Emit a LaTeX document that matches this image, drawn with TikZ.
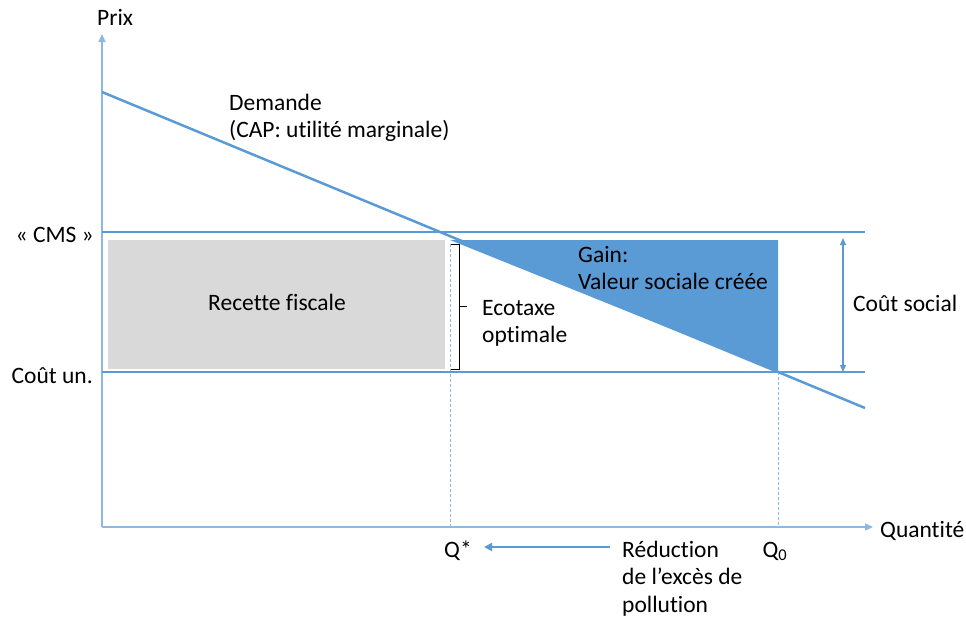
\documentclass[tikz,border=0pt]{standalone}
\usepackage{fontspec}
\setmainfont{Carlito}[Ligatures=NoCommon]
\usetikzlibrary{arrows.meta}
\definecolor{ofblue}{HTML}{5B9BD5}
\definecolor{axblue}{HTML}{8FB8E0}
\definecolor{ofgrey}{HTML}{D9D9D9}
\begin{document}
\begin{tikzpicture}[x=1pt,y=-1pt,
  lbl/.style={font=\fontsize{23.5}{27.5}\selectfont,inner sep=0pt,align=left},
  axisline/.style={draw=axblue,line width=1.5pt,-{Triangle[length=8pt,width=7pt]}},
  curve/.style={draw=ofblue,line width=2.5pt},
  guide/.style={draw=axblue,line width=1pt,dashed,dash pattern=on 3pt off 2pt}]
\useasboundingbox (0,0) rectangle (966,619);
% areas
\fill[ofgrey] (108,240) rectangle (445,369);
\coordinate (o) at (102,527);
\coordinate (ytop) at (102,34);
\coordinate (xend) at (873,527);
\coordinate (dA) at (102,92);
\coordinate (dB) at (865,408);
\coordinate (cmsL) at (102,232);
\coordinate (cmsR) at (865,232);
\coordinate (cuL) at (102,372);
\coordinate (cuR) at (865,372);
\coordinate (tA) at (450,240);
\coordinate (tB) at (778,240);
\coordinate (tC) at (778,372);
\fill[ofblue] (tA) -- (tB) -- (tC) -- cycle;
% guides
\coordinate (qs) at (450,527);
\coordinate (qstop) at (450,244);
\coordinate (q0) at (778,527);
\draw[guide] (qstop) -- (qs);
\draw[guide] (tC) -- (q0);
% axes
\draw[axisline] (o) -- (ytop);
\draw[axisline] (o) -- (xend);
% lines
\draw[curve] (cmsL) -- (cmsR);
\draw[curve,line width=2pt] (cuL) -- (cuR);
\draw[curve] (dA) -- (dB);
% bracket
\coordinate (bT) at (459,244);
\coordinate (bB) at (459,369);
\draw[line width=1pt] (bT) -- ++(-8,0) (bT) -- (bB) -- ++(-8,0) (459,306) -- ++(8,0);
% cout social arrow
\coordinate (csT) at (843,238);
\coordinate (csB) at (843,372);
\draw[draw=ofblue,line width=1.2pt,{Triangle[length=7pt,width=6pt]}-{Triangle[length=7pt,width=6pt]}] (csT) -- (csB);
% reduction arrow
\coordinate (rA) at (610,547);
\coordinate (rB) at (484,547);
\draw[draw=ofblue,line width=2pt,-{Triangle[length=8pt,width=8pt]}] (rA) -- (rB);
% labels
\node[lbl,anchor=base west] (prix) at (97,25) {Prix};
\node[lbl,anchor=base west] (quant) at (880,537) {Quantité};
\node[lbl,anchor=base east] (cms) at (94,242) {« CMS »};
\node[lbl,anchor=base east] (cu) at (93,383) {Coût un.};
\node[lbl,anchor=base west] (dem) at (229,137.5) {Demande\\(CAP: utilité marginale)};
\node[lbl] (rf) at (277,302) {Recette fiscale};
\node[lbl,anchor=base west] (eco) at (482,342.5) {Ecotaxe\\optimale};
\node[lbl,anchor=base west] (gain) at (578,289.5) {Gain:\\Valeur sociale créée};
\node[lbl,anchor=base west] (cs) at (853,311) {Coût social};
\node[lbl,anchor=base] (qsl) at (458,557) {Q*};
\node[lbl,anchor=base] (q0l) at (775,557) {Q\textsubscript{0}};
\node[lbl,anchor=base west] (red) at (622,612) {Réduction\\de l’excès de\\pollution};
\end{tikzpicture}
\end{document}
